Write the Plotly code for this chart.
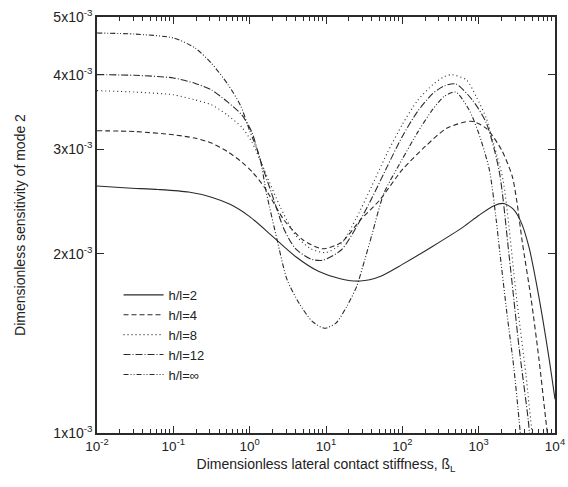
import plotly.graph_objects as go

# ---- data (x as log10 exponents of stiffness, y = dimensionless sensitivity) ----
x_hl2 = [-2, -1.6, -1.2, -0.8, -0.5, -0.25, 0, 0.3, 0.6, 0.9, 1.2, 1.45, 1.7, 2.0, 2.4, 2.8, 3.0, 3.2, 3.33, 3.45, 3.55, 3.66, 3.79, 3.92, 4.0]
y_hl2 = [2.60e-3, 2.58e-3, 2.565e-3, 2.54e-3, 2.49e-3, 2.42e-3, 2.31e-3, 2.14e-3, 1.98e-3, 1.87e-3, 1.815e-3, 1.80e-3, 1.83e-3, 1.92e-3, 2.06e-3, 2.22e-3, 2.32e-3, 2.41e-3, 2.43e-3, 2.38e-3, 2.27e-3, 2.05e-3, 1.69e-3, 1.34e-3, 1.14e-3]

x_hl4 = [-2, -1.5, -1, -0.72, -0.5, -0.29, -0.1, 0.03, 0.2, 0.45, 0.7, 0.95, 1.2, 1.45, 1.7, 2.0, 2.3, 2.58, 2.9, 3.1, 3.3, 3.44, 3.5, 3.57, 3.69, 3.79, 3.88, 3.92]
y_hl4 = [3.22e-3, 3.21e-3, 3.17e-3, 3.13e-3, 3.07e-3, 2.97e-3, 2.85e-3, 2.75e-3, 2.58e-3, 2.28e-3, 2.11e-3, 2.04e-3, 2.09e-3, 2.28e-3, 2.46e-3, 2.77e-3, 3.03e-3, 3.25e-3, 3.34e-3, 3.25e-3, 2.99e-3, 2.70e-3, 2.45e-3, 2.10e-3, 1.67e-3, 1.33e-3, 1.05e-3, 0.95e-3]

x_hl8 = [-2, -1.5, -1.0, -0.72, -0.5, -0.29, -0.1, 0.03, 0.2, 0.4, 0.6, 0.8, 1.0, 1.2, 1.4, 1.6, 1.8, 2.0, 2.2, 2.4, 2.55, 2.65, 2.84, 2.97, 3.1, 3.2, 3.32, 3.5, 3.62, 3.7, 3.74]
y_hl8 = [3.76e-3, 3.74e-3, 3.70e-3, 3.63e-3, 3.56e-3, 3.42e-3, 3.26e-3, 3.08e-3, 2.75e-3, 2.40e-3, 2.15e-3, 2.04e-3, 2.01e-3, 2.08e-3, 2.30e-3, 2.60e-3, 2.95e-3, 3.30e-3, 3.62e-3, 3.85e-3, 3.97e-3, 4.00e-3, 3.92e-3, 3.67e-3, 3.38e-3, 3.05e-3, 2.66e-3, 1.67e-3, 1.25e-3, 1.00e-3, 0.92e-3]

x_hl12 = [-2, -1.5, -1.0, -0.72, -0.5, -0.29, -0.1, 0.03, 0.13, 0.3, 0.45, 0.6, 0.8, 0.95, 1.2, 1.4, 1.6, 1.8, 2.0, 2.2, 2.4, 2.55, 2.7, 2.915, 3.1, 3.27, 3.4, 3.53, 3.65, 3.68]
y_hl12 = [4.00e-3, 3.99e-3, 3.95e-3, 3.87e-3, 3.77e-3, 3.60e-3, 3.42e-3, 3.20e-3, 2.90e-3, 2.50e-3, 2.20e-3, 2.04e-3, 1.96e-3, 1.95e-3, 2.03e-3, 2.22e-3, 2.48e-3, 2.80e-3, 3.15e-3, 3.47e-3, 3.72e-3, 3.83e-3, 3.86e-3, 3.63e-3, 3.32e-3, 2.75e-3, 1.98e-3, 1.39e-3, 1.05e-3, 0.95e-3]

x_inf = [-2, -1.5, -1.0, -0.72, -0.5, -0.29, -0.12, 0.0, 0.13, 0.22, 0.36, 0.49, 0.65, 0.82, 0.98, 1.13, 1.27, 1.4, 1.48, 1.6, 1.76, 1.99, 2.2, 2.4, 2.55, 2.7, 2.875, 3.0, 3.14, 3.23, 3.27, 3.37, 3.46, 3.53, 3.56]
y_inf = [4.70e-3, 4.68e-3, 4.61e-3, 4.44e-3, 4.18e-3, 3.86e-3, 3.55e-3, 3.22e-3, 2.91e-3, 2.53e-3, 2.11e-3, 1.81e-3, 1.65e-3, 1.54e-3, 1.50e-3, 1.53e-3, 1.63e-3, 1.76e-3, 1.90e-3, 2.15e-3, 2.53e-3, 2.87e-3, 3.20e-3, 3.50e-3, 3.68e-3, 3.74e-3, 3.49e-3, 3.19e-3, 2.77e-3, 2.28e-3, 2.05e-3, 1.59e-3, 1.29e-3, 1.05e-3, 0.95e-3]

series_names = ["h/l=2", "h/l=4", "h/l=8", "h/l=12", "h/l=\u221e"]
series_x = [x_hl2, x_hl4, x_hl8, x_hl12, x_inf]
series_y = [y_hl2, y_hl4, y_hl8, y_hl12, y_inf]
dashes = ["solid", "5px,3px", "1px,3px", "7px,2px,1px,2px", "5px,2px,1px,2px,1px,2px"]

x_tick_exp = [-2, -1, 0, 1, 2, 3, 4]
y_tick_vals = [1e-3, 2e-3, 3e-3, 4e-3, 5e-3]
y_tick_text = ["1x10<sup>-3</sup>", "2x10<sup>-3</sup>", "3x10<sup>-3</sup>", "4x10<sup>-3</sup>", "5x10<sup>-3</sup>"]

FONT = "Liberation Sans, Arial, sans-serif"
LC = "#2a2a2a"

fig = go.Figure()
for name, xs, ys, d in zip(series_names, series_x, series_y, dashes):
    fig.add_trace(go.Scatter(
        x=[10 ** e for e in xs], y=ys, name=name, mode="lines",
        line=dict(color=LC, width=1.1, dash=d, shape="spline", smoothing=0.7),
    ))

x_tick_vals = [10 ** e for e in x_tick_exp]
x_tick_text = ["10<sup>%d</sup>" % e for e in x_tick_exp]
minor_x = [m * 10 ** e for e in x_tick_exp[:-1] for m in range(2, 10)]

fig.update_layout(
    width=568, height=487,
    margin=dict(l=97, r=13, t=17, b=54),
    paper_bgcolor="white", plot_bgcolor="white",
    font=dict(family=FONT, size=13, color="#222222"),
    showlegend=True,
    legend=dict(x=0.047, y=0.368, xanchor="left", yanchor="top",
                bgcolor="rgba(0,0,0,0)", font=dict(size=13, family=FONT, color="#222222"),
                tracegroupgap=0, itemwidth=40),
)
fig.update_xaxes(
    type="log", range=[-2, 4], showgrid=False, zeroline=False, automargin=False,
    showline=True, linecolor=LC, linewidth=1.5, mirror="allticks",
    ticks="inside", ticklen=7, tickwidth=1.2, tickcolor=LC,
    tickmode="array", tickvals=x_tick_vals, ticktext=x_tick_text,
    tickfont=dict(size=13.5),
    minor=dict(tickmode="array", tickvals=minor_x, ticks="inside", ticklen=4, tickwidth=1, tickcolor=LC, showgrid=False),
    title=dict(text="Dimensionless lateral contact stiffness, \u00df<sub>L</sub>", font=dict(size=14), standoff=6),
)
fig.update_yaxes(
    type="log", range=[-3, 0.69897 - 3], showgrid=False, zeroline=False, automargin=False,
    showline=True, linecolor=LC, linewidth=1.5, mirror="allticks",
    ticks="inside", ticklen=7, tickwidth=1.2, tickcolor=LC,
    tickmode="array", tickvals=y_tick_vals, ticktext=y_tick_text,
    tickfont=dict(size=14),
    title=dict(text="Dimensionless sensitivity of mode 2", font=dict(size=14), standoff=24),
)

fig.write_html("out.html")
